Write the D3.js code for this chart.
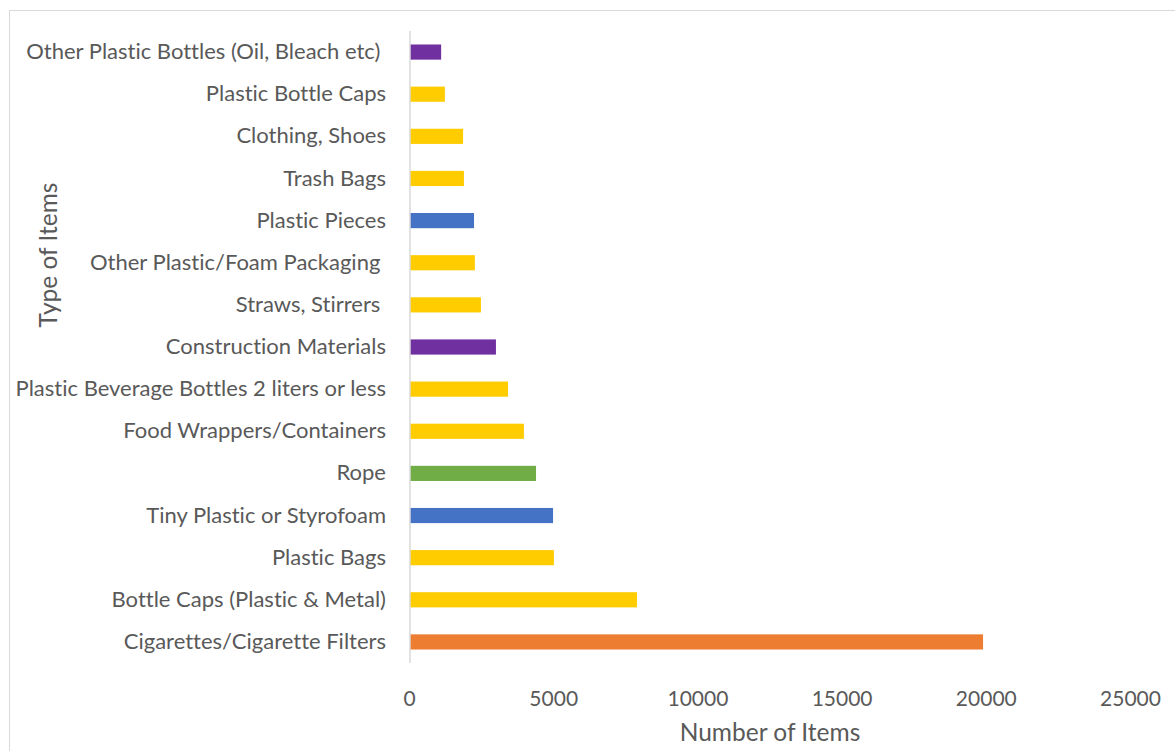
<!DOCTYPE html>
<html>
<head>
<meta charset="utf-8">
<script src="https://cdn.jsdelivr.net/npm/d3@7"></script>
<style>
  html, body { margin: 0; padding: 0; background: #fff; }
  svg { display: block; }
  text { font-family: Lato, "Open Sans", sans-serif; fill: #595959; white-space: pre; font-variant-ligatures: none; font-feature-settings: "liga" 0, "dlig" 0; }
</style>
</head>
<body>
<svg id="chart" width="1175" height="751"></svg>
<script>
// Items collected, listed from the largest count (bottom) to the smallest (top)
const categories = [
  "Cigarettes/Cigarette Filters",
  "Bottle Caps (Plastic & Metal)",
  "Plastic Bags",
  "Tiny Plastic or Styrofoam",
  "Rope",
  "Food Wrappers/Containers",
  "Plastic Beverage Bottles 2 liters or less",
  "Construction Materials",
  "Straws, Stirrers ",
  "Other Plastic/Foam Packaging ",
  "Plastic Pieces",
  "Trash Bags",
  "Clothing, Shoes",
  "Plastic Bottle Caps",
  "Other Plastic Bottles (Oil, Bleach etc) "
];
const counts = [19870, 7870, 4990, 4960, 4370, 3950, 3400, 2980, 2460, 2250, 2220, 1870, 1840, 1210, 1080];
const barColors = [
  "#ED7D31", "#FFCC00", "#FFCC00", "#4472C4", "#70AD47",
  "#FFCC00", "#FFCC00", "#7030A0", "#FFCC00", "#FFCC00",
  "#4472C4", "#FFCC00", "#FFCC00", "#FFCC00", "#7030A0"
];
const xTicks = [0, 5000, 10000, 15000, 20000, 25000];
const xTitle = "Number of Items";
const yTitle = "Type of Items";

const svg = d3.select("#chart");

// outer chart frame
svg.append("rect")
  .attr("x", 9.5).attr("y", 10.5)
  .attr("width", 1200).attr("height", 800)
  .attr("fill", "#fff").attr("stroke", "#d9d9d9").attr("stroke-width", 1);

const plot = { left: 410, right: 1131, top: 31, bottom: 663 };

const x = d3.scaleLinear().domain([0, 25000]).range([plot.left, plot.right]);
const y = d3.scaleBand()
  .domain(categories.slice().reverse())
  .range([plot.top, plot.bottom])
  .paddingInner(0.64).paddingOuter(0.32);

// bars
svg.append("g").selectAll("rect")
  .data(categories)
  .join("rect")
  .attr("x", x(0))
  .attr("y", d => y(d))
  .attr("width", (d, i) => x(counts[i]) - x(0))
  .attr("height", y.bandwidth())
  .attr("fill", (d, i) => barColors[i]);

// category axis line
svg.append("line")
  .attr("x1", plot.left).attr("x2", plot.left)
  .attr("y1", plot.top).attr("y2", plot.bottom)
  .attr("stroke", "#d9d9d9").attr("stroke-width", 1.5);

// category labels
const yAxis = d3.axisLeft(y).tickSize(0).tickPadding(24);
const gy = svg.append("g").attr("transform", `translate(${plot.left},0)`).call(yAxis);
gy.select(".domain").remove();
gy.selectAll("text")
  .attr("font-size", 22)
  .style("font-family", "Lato, 'Open Sans', sans-serif")
  .attr("fill", "#595959");

// value axis labels
const xAxis = d3.axisBottom(x).tickValues(xTicks).tickFormat(d3.format("d")).tickSize(0).tickPadding(0);
const gx = svg.append("g").attr("transform", `translate(-1,${plot.bottom + 28})`).call(xAxis);
gx.select(".domain").remove();
gx.selectAll("text")
  .attr("font-size", 21)
  .style("font-family", "Lato, 'Open Sans', sans-serif")
  .attr("fill", "#595959");

// axis titles
svg.append("text")
  .attr("x", 770).attr("y", 741)
  .attr("text-anchor", "middle")
  .attr("font-size", 24.5)
  .text(xTitle);

svg.append("text")
  .attr("transform", "translate(57,255) rotate(-90)")
  .attr("text-anchor", "middle")
  .attr("font-size", 24.5)
  .text(yTitle);
</script>
</body>
</html>
